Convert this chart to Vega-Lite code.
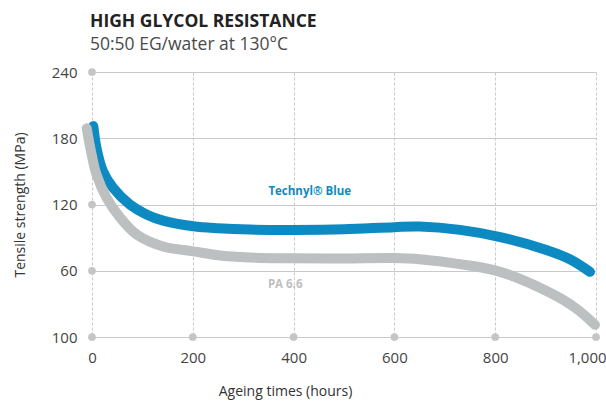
{
  "$schema": "https://vega.github.io/schema/vega-lite/v6.json",
  "autosize": "none",
  "width": 504,
  "height": 265,
  "padding": {"left": 92, "top": 72, "right": 10, "bottom": 68},
  "background": "white",
  "title": {
    "text": "HIGH GLYCOL RESISTANCE",
    "subtitle": "50:50 EG/water at 130°C",
    "anchor": "start",
    "frame": "group",
    "font": "Open Sans",
    "fontSize": 17.5,
    "fontWeight": "bold",
    "color": "#222222",
    "subtitleFont": "Open Sans",
    "subtitleFontSize": 17.5,
    "subtitleColor": "#4a4a4a",
    "subtitlePadding": 5,
    "offset": 12,
    "dx": -2
  },
  "config": {
    "view": {"stroke": null},
    "font": "Open Sans"
  },
  "datasets": {
    "curves": [
      {"series": "Technyl Blue", "hours": 2.6, "mpa": 191},
      {"series": "Technyl Blue", "hours": 9, "mpa": 171},
      {"series": "Technyl Blue", "hours": 22, "mpa": 150},
      {"series": "Technyl Blue", "hours": 42, "mpa": 135},
      {"series": "Technyl Blue", "hours": 75, "mpa": 120},
      {"series": "Technyl Blue", "hours": 108, "mpa": 111},
      {"series": "Technyl Blue", "hours": 141, "mpa": 105.4},
      {"series": "Technyl Blue", "hours": 201, "mpa": 100.3},
      {"series": "Technyl Blue", "hours": 250, "mpa": 98.5},
      {"series": "Technyl Blue", "hours": 313, "mpa": 97.3},
      {"series": "Technyl Blue", "hours": 400, "mpa": 97},
      {"series": "Technyl Blue", "hours": 500, "mpa": 97.5},
      {"series": "Technyl Blue", "hours": 600, "mpa": 99.5},
      {"series": "Technyl Blue", "hours": 650, "mpa": 100},
      {"series": "Technyl Blue", "hours": 730, "mpa": 97},
      {"series": "Technyl Blue", "hours": 810, "mpa": 90.5},
      {"series": "Technyl Blue", "hours": 900, "mpa": 79},
      {"series": "Technyl Blue", "hours": 950, "mpa": 70},
      {"series": "Technyl Blue", "hours": 988, "mpa": 59},
      {"series": "PA 6.6", "hours": -10.5, "mpa": 189},
      {"series": "PA 6.6", "hours": -0.6, "mpa": 165},
      {"series": "PA 6.6", "hours": 9, "mpa": 147},
      {"series": "PA 6.6", "hours": 29, "mpa": 126},
      {"series": "PA 6.6", "hours": 56, "mpa": 108},
      {"series": "PA 6.6", "hours": 89, "mpa": 92.7},
      {"series": "PA 6.6", "hours": 141, "mpa": 82},
      {"series": "PA 6.6", "hours": 201, "mpa": 77.6},
      {"series": "PA 6.6", "hours": 250, "mpa": 74},
      {"series": "PA 6.6", "hours": 313, "mpa": 72},
      {"series": "PA 6.6", "hours": 400, "mpa": 71.3},
      {"series": "PA 6.6", "hours": 500, "mpa": 71.2},
      {"series": "PA 6.6", "hours": 600, "mpa": 71.5},
      {"series": "PA 6.6", "hours": 650, "mpa": 70.5},
      {"series": "PA 6.6", "hours": 730, "mpa": 66},
      {"series": "PA 6.6", "hours": 810, "mpa": 59},
      {"series": "PA 6.6", "hours": 909, "mpa": 40},
      {"series": "PA 6.6", "hours": 960, "mpa": 26},
      {"series": "PA 6.6", "hours": 998, "mpa": 11}
    ],
    "dots": [
      {"hours": 0, "mpa": 0},
      {"hours": 200, "mpa": 0},
      {"hours": 400, "mpa": 0},
      {"hours": 600, "mpa": 0},
      {"hours": 800, "mpa": 0},
      {"hours": 1000, "mpa": 0},
      {"hours": 0, "mpa": 60},
      {"hours": 0, "mpa": 120},
      {"hours": 0, "mpa": 180},
      {"hours": 0, "mpa": 240}
    ],
    "labels": [
      {"hours": 350, "mpa": 131, "text": "Technyl® Blue", "series": "Technyl Blue"},
      {"hours": 349, "mpa": 47, "text": "PA 6.6", "series": "PA 6.6"}
    ]
  },
  "layer": [
    {
      "data": {"name": "dots"},
      "mark": {"type": "point", "filled": true, "size": 60, "color": "#c4c5c7", "opacity": 1},
      "encoding": {
        "x": {
          "field": "hours", "type": "quantitative",
          "scale": {"domain": [0, 1000], "nice": false, "zero": false},
          "axis": {
            "values": [0, 200, 400, 600, 800, 1000],
            "format": ",d",
            "title": "Ageing times (hours)",
            "titleFont": "Open Sans",
            "titleFontSize": 14,
            "titleFontWeight": "normal",
            "titleColor": "#333333",
            "titlePadding": 19,
            "titleX": 193,
            "labelFont": "Open Sans",
            "labelFontSize": 15,
            "labelColor": "#444444",
            "labelPadding": 13,
            "labelFlush": false,
            "labelOffset": {"condition": {"test": "datum.value == 1000", "value": -9}, "value": 0},
            "domain": false,
            "ticks": false,
            "grid": true,
            "gridColor": "#c8c9cb",
            "gridDash": [3, 2],
            "gridWidth": 1
          }
        },
        "y": {
          "field": "mpa", "type": "quantitative",
          "scale": {"domain": [0, 240], "nice": false},
          "axis": {
            "values": [0, 60, 120, 180, 240],
            "labelExpr": "datum.value == 0 ? '100' : datum.label",
            "title": "Tensile strength (MPa)",
            "titleFont": "Open Sans",
            "titleFontSize": 14,
            "titleFontWeight": "normal",
            "titleColor": "#333333",
            "titlePadding": 24,
            "labelFont": "Open Sans",
            "labelFontSize": 15,
            "labelColor": "#444444",
            "labelPadding": 15,
            "domain": false,
            "ticks": false,
            "grid": true,
            "gridColor": "#c8c9cb",
            "gridWidth": 1
          }
        }
      }
    },
    {
      "data": {"name": "curves"},
      "mark": {"type": "line", "strokeWidth": 10, "strokeCap": "round", "strokeJoin": "round", "interpolate": "catmull-rom", "clip": false},
      "encoding": {
        "x": {"field": "hours", "type": "quantitative"},
        "y": {"field": "mpa", "type": "quantitative"},
        "color": {
          "field": "series", "type": "nominal",
          "scale": {"domain": ["PA 6.6", "Technyl Blue"], "range": ["#bcc0c1", "#0e8ac2"]},
          "legend": null
        },
        "order": {"field": "hours", "type": "quantitative"}
      }
    },
    {
      "data": {"name": "labels"},
      "mark": {"type": "text", "align": "left", "baseline": "middle", "font": "Open Sans", "fontWeight": "bold", "fontSize": 11.5},
      "encoding": {
        "x": {"field": "hours", "type": "quantitative"},
        "y": {"field": "mpa", "type": "quantitative"},
        "text": {"field": "text"},
        "color": {"field": "series", "type": "nominal", "legend": null}
      }
    }
  ]
}
